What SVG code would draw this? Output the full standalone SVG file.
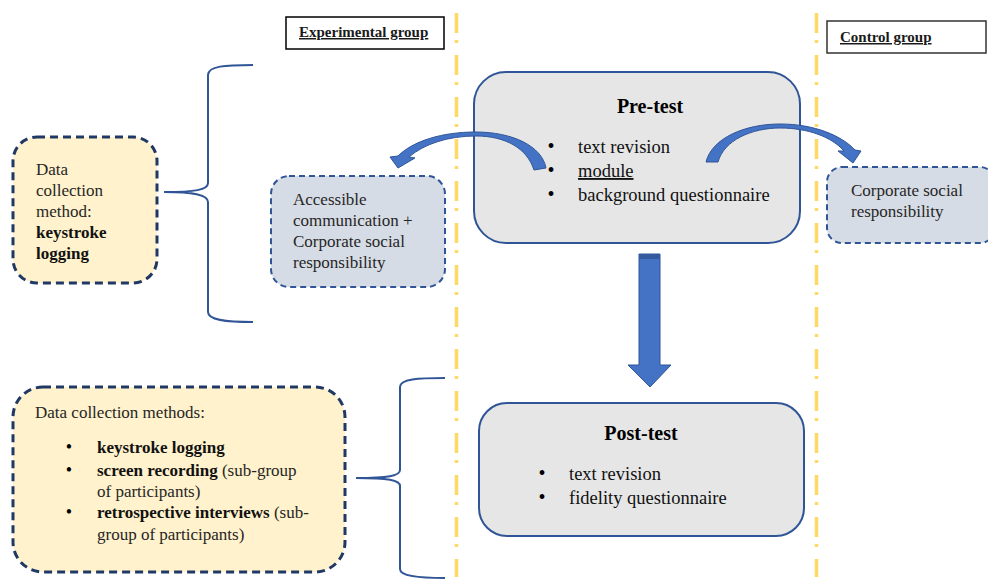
<svg xmlns="http://www.w3.org/2000/svg" width="988" height="583" viewBox="0 0 988 583" font-family="'Liberation Serif', Tinos, 'Times New Roman', 'DejaVu Serif', serif">
<defs>
<style>
text{font-family:'Liberation Serif',Tinos,'Times New Roman','DejaVu Serif',serif;fill:#1a1a1a}
.lbl{font-size:15px;font-weight:bold;text-decoration:underline}
.ttl{font-size:20px;font-weight:bold;text-anchor:middle;fill:#000}
.body{font-size:18.5px;fill:#111}
.sm{font-size:17px;fill:#262626}
.b{font-weight:bold;fill:#111}
.bul{font-size:20px;text-anchor:middle;fill:#000}
.bul2{font-size:18px;text-anchor:middle;fill:#000}
.guide{stroke:#FFD966;stroke-width:3.5;stroke-dasharray:20 7 3 12;fill:none}
.brace{fill:none;stroke:#2F5597;stroke-width:2}
.test{fill:#E6E6E6;stroke:#2F5597;stroke-width:2}
.yel{fill:#FFF2CC;stroke:#203864;stroke-width:3;stroke-dasharray:8 5}
.grp{fill:#D6DCE5;stroke:#2F5597;stroke-width:2;stroke-dasharray:6 4}
.arr{fill:#4472C4;stroke:#2F5597;stroke-width:1}
</style>
</defs>
<rect width="988" height="583" fill="#fff"/>

<g id="guides">
<line class="guide" x1="456.5" y1="13" x2="456.5" y2="577"/>
<line class="guide" x1="816.5" y1="13" x2="816.5" y2="577"/>
</g>

<g id="experimental-label">
<rect x="286" y="17" width="158" height="32" fill="#fff" stroke="#000" stroke-width="1.5"/>
<text class="lbl" x="299" y="37">Experimental group</text>
</g>

<g id="control-label">
<rect x="827" y="21" width="159" height="32" fill="#fff" stroke="#333" stroke-width="1.5"/>
<text class="lbl" x="840" y="42">Control group</text>
</g>

<g id="pretest">
<rect class="test" x="474" y="72" width="326" height="171" rx="32"/>
<text class="ttl" x="650" y="113">Pre-test</text>
<text class="bul" x="551" y="153">•</text>
<text class="body" x="578" y="153">text revision</text>
<text class="bul" x="551" y="177">•</text>
<text class="body" x="578" y="177" text-decoration="underline">module</text>
<text class="bul" x="551" y="201">•</text>
<text class="body" x="578" y="201">background questionnaire</text>
</g>

<g id="posttest">
<rect class="test" x="479" y="403" width="325" height="133" rx="28"/>
<text class="ttl" x="641" y="440">Post-test</text>
<text class="bul" x="542" y="480">•</text>
<text class="body" x="569" y="480">text revision</text>
<text class="bul" x="542" y="504">•</text>
<text class="body" x="569" y="504">fidelity questionnaire</text>
</g>

<g id="method-pretest">
<rect class="yel" x="13" y="137" width="144" height="146" rx="24"/>
<text class="sm" x="36" y="175">Data</text>
<text class="sm" x="36" y="196">collection</text>
<text class="sm" x="36" y="217">method:</text>
<text class="sm b" x="36" y="238">keystroke</text>
<text class="sm b" x="36" y="259">logging</text>
</g>

<g id="experimental-module">
<rect class="grp" x="271" y="176" width="174" height="111" rx="18"/>
<text class="sm" x="293" y="205">Accessible</text>
<text class="sm" x="293" y="226">communication +</text>
<text class="sm" x="293" y="247">Corporate social</text>
<text class="sm" x="293" y="268">responsibility</text>
</g>

<g id="control-module">
<rect class="grp" x="827" y="167" width="168" height="76" rx="15"/>
<text class="sm" x="851" y="196">Corporate social</text>
<text class="sm" x="851" y="217">responsibility</text>
</g>

<g id="method-posttest">
<rect class="yel" x="13" y="387" width="332" height="185" rx="30" stroke="#2F4F8F"/>
<text class="sm" x="35" y="418">Data collection methods:</text>
<text class="bul2" x="69" y="453">•</text>
<text class="sm b" x="97" y="453">keystroke logging</text>
<text class="bul2" x="69" y="476">•</text>
<text class="sm" x="97" y="476"><tspan class="b">screen recording</tspan> (sub-group</text>
<text class="sm" x="97" y="497">of participants)</text>
<text class="bul2" x="69" y="518">•</text>
<text class="sm" x="97" y="518"><tspan class="b">retrospective interviews</tspan> (sub-</text>
<text class="sm" x="97" y="540">group of participants)</text>
</g>

<g id="connectors">
<path class="brace" d="M253,65 C225,65 208,66 208,75 L208,183 C208,190 195,192 164,192 C195,192 208,195 208,202 L208,312 C208,320 225,322 253,322"/>
<path class="brace" d="M445,378 C418,378 400,379 400,387 L400,470 C400,476 388,478 356,478 C388,478 400,480 400,486 L400,569 C400,576 418,578 445,578"/>
<path class="arr" d="M534,170 L546,168 C542,146 512,132 476,132 C442,132 413,141 398,156 L390,157 L398,168 L415,158 L409,157 C424,144 448,136 476,136 C505,136 527,148 534,170 Z"/>
<path class="arr" d="M706,162 C712,138 745,124 780,124 C815,124 842,136 855,150 L861,151 L853,163 L838,151 L844,151 C832,137 808,128 780,128 C752,128 724,140 718,162 Z"/>
<g id="down-arrow">
<path class="arr" d="M639,254 L660,254 L660,365 L671,365 L650,387 L628,365 L639,365 Z"/>
<rect x="639" y="254" width="21" height="5" fill="#34599E"/>
</g>
</g>
</svg>
